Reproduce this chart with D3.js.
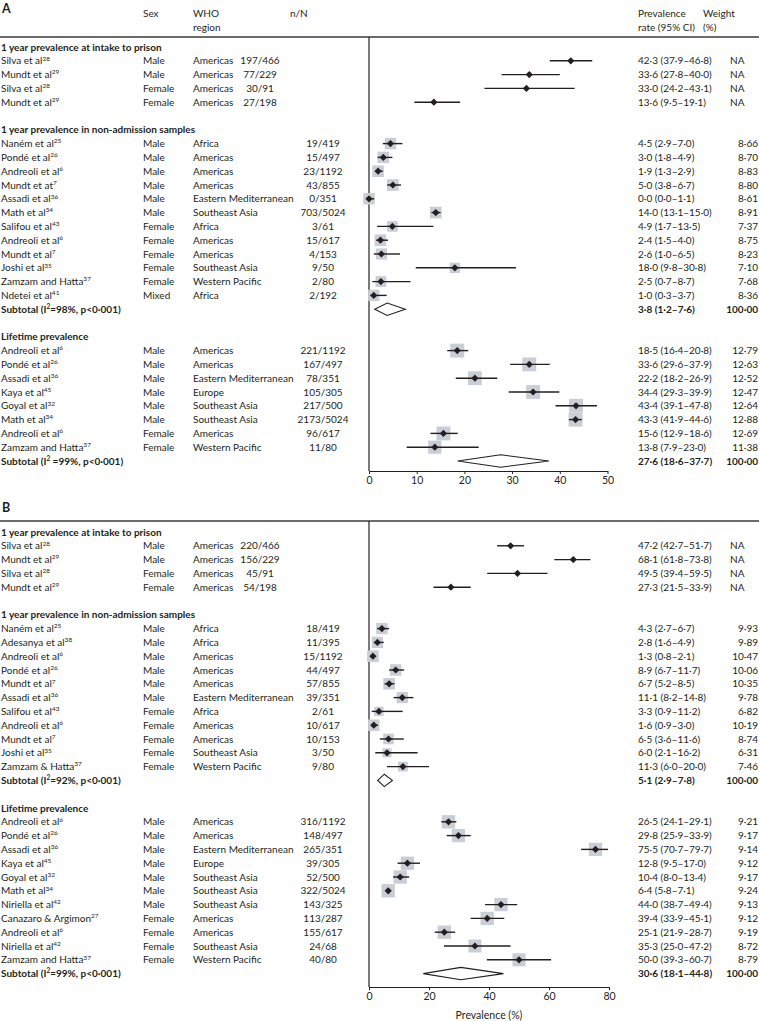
<!DOCTYPE html>
<html><head><meta charset="utf-8">
<script src="https://cdn.jsdelivr.net/npm/d3@7"></script>
<style>
body{margin:0;background:#fff}
svg{display:block}
text{font-family:"Lato",sans-serif;fill:#231f20}
</style>
</head><body>
<svg id="chart" width="759" height="1021"></svg>
<script>
// ---------- DATA ----------
const sectionTitles = ["1 year prevalence at intake to prison", "1 year prevalence in non-admission samples", "Lifetime prevalence"];
const ticksA = [0, 10, 20, 30, 40, 50];
const ticksB = [0, 20, 40, 60, 80];
const axisTitle = "Prevalence (%)";

// [study, ref, sex, WHO region, n/N, estimate, lower, upper, weight]
const aIntake = [
  ["Silva et al", "28", "Male", "Americas", "197/466", 42.3, 37.9, 46.8, null],
  ["Mundt et al", "29", "Male", "Americas", "77/229", 33.6, 27.8, 40.0, null],
  ["Silva et al", "28", "Female", "Americas", "30/91", 33.0, 24.2, 43.1, null],
  ["Mundt et al", "29", "Female", "Americas", "27/198", 13.6, 9.5, 19.1, null]
];
const aNonAdmission = [
  ["Naném et al", "25", "Male", "Africa", "19/419", 4.5, 2.9, 7.0, 8.66],
  ["Pondé et al", "26", "Male", "Americas", "15/497", 3.0, 1.8, 4.9, 8.70],
  ["Andreoli et al", "6", "Male", "Americas", "23/1192", 1.9, 1.3, 2.9, 8.83],
  ["Mundt et at", "7", "Male", "Americas", "43/855", 5.0, 3.8, 6.7, 8.80],
  ["Assadi et al", "36", "Male", "Eastern Mediterranean", "0/351", 0.0, 0.0, 1.1, 8.61],
  ["Math et al", "34", "Male", "Southeast Asia", "703/5024", 14.0, 13.1, 15.0, 8.91],
  ["Salifou et al", "43", "Female", "Africa", "3/61", 4.9, 1.7, 13.5, 7.37],
  ["Andreoli et al", "6", "Female", "Americas", "15/617", 2.4, 1.5, 4.0, 8.75],
  ["Mundt et al", "7", "Female", "Americas", "4/153", 2.6, 1.0, 6.5, 8.23],
  ["Joshi et al", "35", "Female", "Southeast Asia", "9/50", 18.0, 9.8, 30.8, 7.10],
  ["Zamzam and Hatta", "37", "Female", "Western Pacific", "2/80", 2.5, 0.7, 8.7, 7.68],
  ["Ndetei et al", "41", "Mixed", "Africa", "2/192", 1.0, 0.3, 3.7, 8.36]
];
const aLifetime = [
  ["Andreoli et al", "6", "Male", "Americas", "221/1192", 18.5, 16.4, 20.8, 12.79],
  ["Pondé et al", "26", "Male", "Americas", "167/497", 33.6, 29.6, 37.9, 12.63],
  ["Assadi et al", "36", "Male", "Eastern Mediterranean", "78/351", 22.2, 18.2, 26.9, 12.52],
  ["Kaya et al", "45", "Male", "Europe", "105/305", 34.4, 29.3, 39.9, 12.47],
  ["Goyal et al", "32", "Male", "Southeast Asia", "217/500", 43.4, 39.1, 47.8, 12.64],
  ["Math et al", "34", "Male", "Southeast Asia", "2173/5024", 43.3, 41.9, 44.6, 12.88],
  ["Andreoli et al", "6", "Female", "Americas", "96/617", 15.6, 12.9, 18.6, 12.69],
  ["Zamzam and Hatta", "37", "Female", "Western Pacific", "11/80", 13.8, 7.9, 23.0, 11.38]
];
// [I² text, p text, estimate, lower, upper, weight]
const aSubtotals = [
  ["=98%", ", p<0·001)", 3.8, 1.2, 7.6, 100.00],
  [" =99%", ", p<0·001)", 27.6, 18.6, 37.7, 100.00]
];

const bIntake = [
  ["Silva et al", "28", "Male", "Americas", "220/466", 47.2, 42.7, 51.7, null],
  ["Mundt et al", "29", "Male", "Americas", "156/229", 68.1, 61.8, 73.8, null],
  ["Silva et al", "28", "Female", "Americas", "45/91", 49.5, 39.4, 59.5, null],
  ["Mundt et al", "29", "Female", "Americas", "54/198", 27.3, 21.5, 33.9, null]
];
const bNonAdmission = [
  ["Naném et al", "25", "Male", "Africa", "18/419", 4.3, 2.7, 6.7, 9.93],
  ["Adesanya et al", "38", "Male", "Africa", "11/395", 2.8, 1.6, 4.9, 9.89],
  ["Andreoli et al", "6", "Male", "Americas", "15/1192", 1.3, 0.8, 2.1, 10.47],
  ["Pondé et al", "26", "Male", "Americas", "44/497", 8.9, 6.7, 11.7, 10.06],
  ["Mundt et al", "7", "Male", "Americas", "57/855", 6.7, 5.2, 8.5, 10.35],
  ["Assadi et al", "36", "Male", "Eastern Mediterranean", "39/351", 11.1, 8.2, 14.8, 9.78],
  ["Salifou et al", "43", "Female", "Africa", "2/61", 3.3, 0.9, 11.2, 6.82],
  ["Andreoli et al", "6", "Female", "Americas", "10/617", 1.6, 0.9, 3.0, 10.19],
  ["Mundt et al", "7", "Female", "Americas", "10/153", 6.5, 3.6, 11.6, 8.74],
  ["Joshi et al", "35", "Female", "Southeast Asia", "3/50", 6.0, 2.1, 16.2, 6.31],
  ["Zamzam & Hatta", "37", "Female", "Western Pacific", "9/80", 11.3, 6.0, 20.0, 7.46]
];
const bLifetime = [
  ["Andreoli et al", "6", "Male", "Americas", "316/1192", 26.5, 24.1, 29.1, 9.21],
  ["Pondé et al", "26", "Male", "Americas", "148/497", 29.8, 25.9, 33.9, 9.17],
  ["Assadi et al", "36", "Male", "Eastern Mediterranean", "265/351", 75.5, 70.7, 79.7, 9.14],
  ["Kaya et al", "45", "Male", "Europe", "39/305", 12.8, 9.5, 17.0, 9.12],
  ["Goyal et al", "32", "Male", "Southeast Asia", "52/500", 10.4, 8.0, 13.4, 9.17],
  ["Math et al", "34", "Male", "Southeast Asia", "322/5024", 6.4, 5.8, 7.1, 9.24],
  ["Niriella et al", "42", "Male", "Southeast Asia", "143/325", 44.0, 38.7, 49.4, 9.13],
  ["Canazaro & Argimon", "27", "Female", "Americas", "113/287", 39.4, 33.9, 45.1, 9.12],
  ["Andreoli et al", "6", "Female", "Americas", "155/617", 25.1, 21.9, 28.7, 9.19],
  ["Niriella et al", "42", "Female", "Southeast Asia", "24/68", 35.3, 25.0, 47.2, 8.72],
  ["Zamzam and Hatta", "37", "Female", "Western Pacific", "40/80", 50.0, 39.3, 60.7, 8.79]
];
const bSubtotals = [
  ["=92%", ", p<0·001)", 5.1, 2.9, 7.8, 100.00],
  ["=99%", ", p<0·001)", 30.6, 18.1, 44.8, 100.00]
];

// ---------- LAYOUT / STYLE ----------
const W = 759;
const ROW = 13.8;
const FS = 10;
const COL = {name: 1, sex: 143, region: 193, nnIntake: 260, nn: 323, ci: 638, wt: 758, na: 730, wtHead: 703, nnHead: 290};
const SQ = "#c9ced6";
const INK = "#231f20";
const f1 = v => v.toFixed(1).replace(".", "·");
const f2 = v => v.toFixed(2).replace(".", "·");

const svg = d3.select("#chart");

const panels = [
  {label: "A", labelY: 13, ruleY: 37, y0: 47, axisY: 471, domain: [0, 50], range: [369, 607.5], ticks: ticksA, header: true, axisTitle: false,
   sections: [
     {title: sectionTitles[0], rows: aIntake, intake: true},
     {title: sectionTitles[1], rows: aNonAdmission, sub: aSubtotals[0], k: 3.9},
     {title: sectionTitles[2], rows: aLifetime, sub: aSubtotals[1], k: 3.9}
   ]},
  {label: "B", labelY: 512, ruleY: 521, y0: 532, axisY: 987, domain: [0, 80], range: [369, 609], ticks: ticksB, header: false, axisTitle: true,
   sections: [
     {title: sectionTitles[0], rows: bIntake, intake: true},
     {title: sectionTitles[1], rows: bNonAdmission, sub: bSubtotals[0], k: 3.6},
     {title: sectionTitles[2], rows: bLifetime, sub: bSubtotals[1], k: 4.4}
   ]}
];

function txt(g, x, y, s, opts = {}) {
  return g.append("text").attr("x", x).attr("y", y)
    .attr("font-size", opts.fs || FS)
    .attr("font-weight", opts.bold ? "bold" : null)
    .attr("text-anchor", opts.anchor || "start")
    .text(s);
}

panels.forEach(p => {
  const g = svg.append("g");
  const x = d3.scaleLinear().domain(p.domain).range(p.range);

  // panel label
  txt(g, 2, p.labelY, p.label, {fs: 12.5, bold: true});

  if (p.header) {
    const hy1 = 17, hy2 = 31;
    txt(g, COL.sex, hy1, "Sex");
    txt(g, COL.region, hy1, "WHO");
    txt(g, COL.region, hy2, "region");
    txt(g, COL.nnHead, hy1, "n/N");
    txt(g, COL.ci, hy1, "Prevalence");
    txt(g, COL.ci, hy2, "rate (95% CI)");
    txt(g, COL.wtHead, hy1, "Weight");
    txt(g, COL.wtHead, hy2, "(%)");
  }

  // top rule
  g.append("line").attr("x1", 0).attr("x2", W).attr("y1", p.ruleY).attr("y2", p.ruleY)
    .attr("stroke", "#3a3a3a").attr("stroke-width", 1.5);

  // vertical reference line at 0
  g.append("line").attr("x1", x(0)).attr("x2", x(0)).attr("y1", p.ruleY).attr("y2", p.axisY)
    .attr("stroke", INK).attr("stroke-width", 1.2);

  let idx = 0;
  const yOf = i => p.y0 + i * ROW;
  p.sections.forEach(s => {
    const hy = yOf(idx);
    txt(g, COL.name, hy + 3.6, s.title, {bold: true});
    idx++;
    s.rows.forEach(r => {
      const [name, ref, sex, region, nn, est, lo, hi, wt] = r;
      const y = yOf(idx);
      const t = txt(g, COL.name, y + 3.6, name);
      t.append("tspan").attr("font-size", 6.5).attr("dy", -3.8).text(ref);
      txt(g, COL.sex, y + 3.6, sex);
      txt(g, COL.region, y + 3.6, region);
      txt(g, s.intake ? COL.nnIntake : COL.nn, y + 3.6, nn, {anchor: "middle"});
      txt(g, COL.ci, y + 3.6, `${f1(est)} (${f1(lo)}–${f1(hi)})`);
      if (wt == null) txt(g, COL.na, y + 3.6, "NA");
      else txt(g, COL.wt, y + 3.6, f2(wt), {anchor: "end"});

      // marks
      if (wt != null) {
        const sz = s.k * Math.sqrt(wt);
        g.append("rect").attr("x", x(est) - sz / 2).attr("y", y - sz / 2)
          .attr("width", sz).attr("height", sz).attr("fill", SQ);
      }
      g.append("line").attr("x1", x(lo)).attr("x2", x(hi)).attr("y1", y).attr("y2", y)
        .attr("stroke", INK).attr("stroke-width", 1.4);
      const d = 3.6;
      const cx = x(est);
      g.append("path").attr("d", `M${cx - d},${y}L${cx},${y - d}L${cx + d},${y}L${cx},${y + d}Z`).attr("fill", INK);
      idx++;
    });
    if (s.sub) {
      const [i2, ptxt, est, lo, hi, wt] = s.sub;
      const y = yOf(idx);
      const t = g.append("text").attr("x", COL.name).attr("y", y + 3.6).attr("font-size", FS).attr("font-weight", "bold");
      t.append("tspan").text("Subtotal (I");
      t.append("tspan").attr("font-size", 6.5).attr("dy", -3.8).text("2");
      t.append("tspan").attr("dy", 3.8).text(i2 + ptxt);
      txt(g, COL.ci, y + 3.6, `${f1(est)} (${f1(lo)}–${f1(hi)})`, {bold: true});
      txt(g, COL.wt, y + 3.6, f2(wt), {anchor: "end", bold: true});
      const h = 6.2;
      g.append("path")
        .attr("d", `M${x(lo)},${y}L${x(est)},${y - h}L${x(hi)},${y}L${x(est)},${y + h}Z`)
        .attr("fill", "#fff").attr("stroke", INK).attr("stroke-width", 1.1);
      idx++;
    }
    idx++; // blank line between sections
  });

  // x axis
  const ax = g.append("g").attr("transform", `translate(0,${p.axisY})`)
    .call(d3.axisBottom(x).tickValues(p.ticks).tickSize(3).tickSizeOuter(0).tickPadding(3).tickFormat(d3.format("d")));
  ax.select(".domain").attr("stroke", INK).attr("stroke-width", 1.2);
  ax.selectAll(".tick line").attr("stroke", INK);
  ax.selectAll(".tick text").attr("font-size", 10.5).attr("fill", INK)
    .attr("font-family", "Lato, sans-serif");

  if (p.axisTitle) {
    txt(g, (p.range[0] + p.range[1]) / 2, 1019, axisTitle, {anchor: "middle", fs: 10.5});
  }
});
</script>
</body></html>
